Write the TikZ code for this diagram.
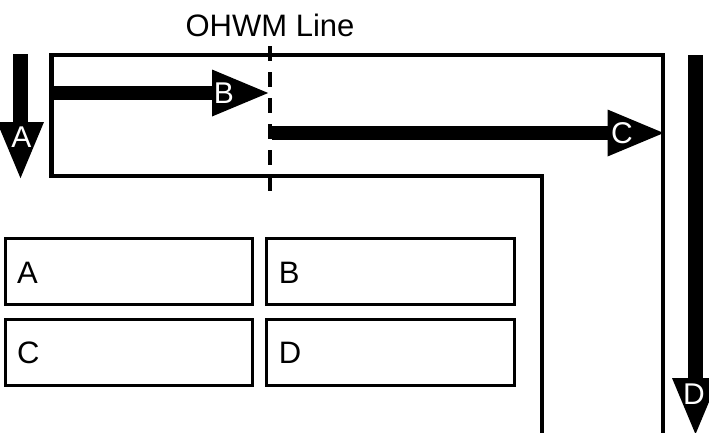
\documentclass[tikz,border=0pt]{standalone}
\usepackage{fontspec}
\setmainfont{Liberation Sans}
\usetikzlibrary{arrows.meta}

\begin{document}
\begin{tikzpicture}[x=1pt, y=-1pt,
        wall/.style={line width=4.5pt},
        ohwmline/.style={line width=4.5pt, dash pattern=on 15pt off 11pt},
        flow/.style={line width=14.5pt, -{Triangle[length=59pt, width=42pt]}},
        flowlbl/.style={text=white, inner sep=0pt, font=\fontsize{30}{36}\selectfont},
        zone/.style={rectangle, draw=black, line width=3pt, minimum width=247.5pt, minimum height=66pt,
            text width=223.5pt, inner xsep=12pt, align=left, text height=22.5pt, text depth=0pt,
            font=\fontsize{31}{37}\selectfont}]
            \useasboundingbox (0, 0) rectangle (709, 432);
            \clip (0, 0) rectangle (709, 432);

            % channel outline
            \draw[wall] (542, 440) -- (542, 176) -- (51.5, 176) -- (51.5, 55) -- (663, 55) -- (663, 440);

            % OHWM line
            \node[anchor=base, inner sep=0pt, font=\fontsize{31}{37}\selectfont] (ohwm) at (270, 36.7) {OHWM Line};
            \coordinate (ohwmT) at (270, 46);
            \coordinate (ohwmB) at (270, 194);
            \draw[ohwmline] (ohwmT) -- (ohwmB);

            % zones
            \node[zone] (zA) at (128.75, 271.75) {A};
            \node[zone] (zB) at (390.5, 271.75) {B};
            \node[zone] (zC) at (128.75, 352.5) {C};
            \node[zone] (zD) at (390.5, 352.5) {D};

            % flow arrows
            \coordinate (aS) at (20.5, 54);
            \coordinate (aE) at (20.5, 181);
            \coordinate (bS) at (53, 93);
            \coordinate (bE) at (271, 93);
            \coordinate (cS) at (272, 133);
            \coordinate (cE) at (666.5, 133);
            \coordinate (dS) at (695.5, 55);
            \coordinate (dE) at (695.5, 437);
            \draw[flow] (aS) -- (aE);
            \draw[flow] (bS) -- (bE);
            \draw[flow] (cS) -- (cE);
            \draw[flow] (dS) -- (dE);

            \node[flowlbl] (aL) at (21.5, 137.5) {A};
            \node[flowlbl] (bL) at (224, 93.5) {B};
            \node[flowlbl] (cL) at (622, 133) {C};
            \node[flowlbl] (dL) at (694, 394) {D};
        \end{tikzpicture}
\end{document}
